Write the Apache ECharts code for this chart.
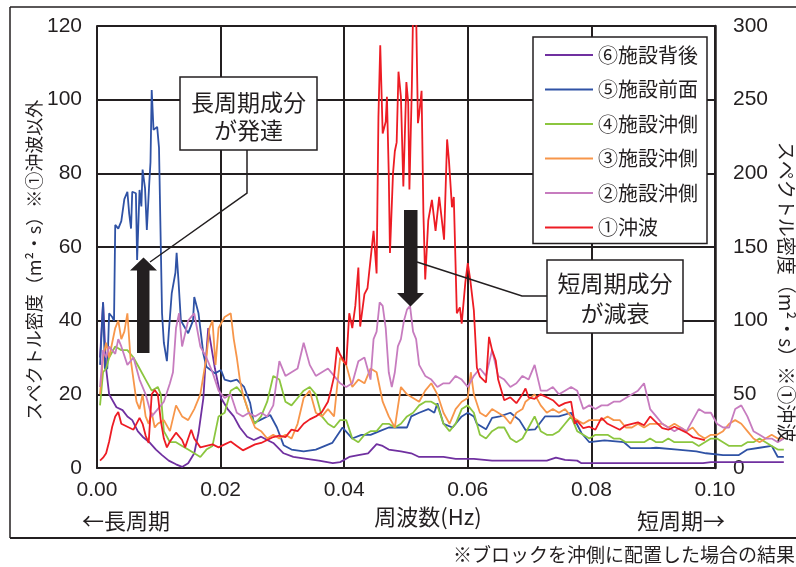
<!DOCTYPE html>
<html><head><meta charset="utf-8">
<script src="https://cdn.jsdelivr.net/npm/echarts@6/dist/echarts.min.js"></script>
<style>html,body{margin:0;padding:0;background:#fff}#c{width:796px;height:567px}</style>
</head><body><div id="c"></div>
<script>
// ---- data ----
const seriesNames = ['⑥施設背後','⑤施設前面','④施設沖側','③施設沖側','②施設沖側','①沖波'];
const xTickLabels = ['0.00','0.02','0.04','0.06','0.08','0.10'];
const leftTicks = [0,20,40,60,80,100,120];
const rightTicks = [0,50,100,150,200,250,300];

// ⑥ 施設背後 (left axis)
const s6 = [[0.0005,30],[0.001,45],[0.0015,27],[0.002,20],[0.0032,16.5],[0.0042,15.7],[0.005,14],[0.0058,13],[0.0067,10],[0.0075,8.5],[0.0086,7],[0.0097,5],[0.0107,3.5],[0.0118,2],[0.013,1],[0.014,0.3],[0.015,1.3],[0.016,4],[0.0167,9.5],[0.0175,19],[0.0178,27],[0.0183,38],[0.0188,33],[0.0194,27],[0.0204,19],[0.0215,16],[0.0225,14],[0.0235,11],[0.0247,8.5],[0.0258,7.6],[0.027,8.5],[0.028,7.6],[0.029,6.8],[0.0307,4],[0.0323,3],[0.0345,2.5],[0.0365,2],[0.0388,1.3],[0.040,1.6],[0.0415,3],[0.043,3.5],[0.0446,4],[0.046,6.5],[0.047,6],[0.048,5],[0.050,4.5],[0.0517,4],[0.053,3],[0.0555,3],[0.057,3],[0.059,2.5],[0.062,2.5],[0.065,2],[0.068,2],[0.071,2],[0.074,2],[0.0755,2.8],[0.077,2.2],[0.079,2],[0.0797,1.3],[0.085,1.3],[0.09,1.3],[0.095,1.3],[0.0997,1.3],[0.101,1.6],[0.106,1.6],[0.113,1.6]];

// ⑤ 施設前面 (left axis)
const s5 = [[0.0005,28],[0.001,45],[0.0013,27],[0.0017,27],[0.002,42],[0.0025,41],[0.0028,40],[0.003,66],[0.0035,65],[0.004,67],[0.0045,73],[0.005,75],[0.0053,69],[0.0056,65],[0.0058,75],[0.0064,74.6],[0.0066,56.5],[0.007,75.5],[0.0073,71],[0.0075,81],[0.0079,76],[0.0082,64.6],[0.0086,77.4],[0.0088,83],[0.009,102.6],[0.0093,91.8],[0.0099,92.6],[0.0102,87],[0.0105,60],[0.0107,42],[0.011,34],[0.0115,29],[0.0118,36.6],[0.0123,47.5],[0.0129,53],[0.0131,58.4],[0.0134,51],[0.0138,40],[0.0145,38],[0.015,36.6],[0.0158,40],[0.016,46.4],[0.0167,42],[0.0175,31],[0.018,27.5],[0.0194,25.7],[0.0204,26.6],[0.021,24],[0.022,23.5],[0.023,24],[0.0236,23],[0.0242,22],[0.0252,17.6],[0.0258,12.2],[0.0268,13],[0.0285,14.4],[0.0296,11],[0.0307,6.2],[0.032,5],[0.034,4.5],[0.036,5],[0.0387,6.8],[0.0404,11],[0.042,8],[0.0435,9],[0.045,9],[0.0465,10],[0.048,11],[0.0495,11],[0.051,11],[0.0517,14],[0.053,15],[0.0545,16],[0.0555,15],[0.056,17.6],[0.057,12],[0.0585,11],[0.060,14],[0.061,15],[0.062,14],[0.0625,12],[0.064,10.5],[0.065,13.6],[0.0663,14],[0.068,15],[0.0695,13],[0.0705,10.3],[0.0721,10.5],[0.0737,14],[0.076,14],[0.078,15],[0.0797,9.5],[0.081,7],[0.0835,7.5],[0.0867,7],[0.0878,5.4],[0.091,5.4],[0.092,5.5],[0.0955,5],[0.0986,4.5],[0.1002,4],[0.103,3.5],[0.1056,3.5],[0.107,5],[0.109,5.5],[0.111,6],[0.112,3],[0.113,3]];

// ④ 施設沖側 (left axis)
const s4 = [[0.0005,17],[0.001,26],[0.0015,27],[0.002,30],[0.003,33],[0.004,32],[0.005,32],[0.006,30],[0.007,27],[0.008,24],[0.009,21],[0.010,22],[0.0105,20],[0.011,10],[0.012,7],[0.013,7],[0.014,6],[0.015,5],[0.016,4],[0.017,3],[0.018,5],[0.019,6],[0.020,14],[0.021,15],[0.022,21],[0.023,22],[0.024,20],[0.025,15],[0.026,12],[0.027,14],[0.028,18],[0.029,25],[0.030,24],[0.031,18],[0.032,17],[0.033,19],[0.034,21],[0.035,22],[0.036,20],[0.037,14],[0.038,12],[0.039,11],[0.040,13],[0.041,13],[0.042,8],[0.043,7],[0.044,9],[0.045,10],[0.046,10],[0.047,12],[0.048,12],[0.049,11],[0.050,12],[0.051,14],[0.052,15],[0.053,17],[0.054,18],[0.055,18],[0.056,17],[0.057,12],[0.058,10],[0.059,12],[0.060,16],[0.061,17],[0.062,15],[0.063,9],[0.064,8],[0.065,10],[0.066,11],[0.067,11],[0.068,8],[0.069,7],[0.070,8],[0.071,11],[0.072,14],[0.073,10],[0.074,9],[0.075,9],[0.076,10],[0.077,12],[0.078,14],[0.079,10],[0.080,9],[0.081,8],[0.082,9],[0.083,9],[0.084,9],[0.085,8],[0.086,8],[0.087,7],[0.088,7],[0.089,7],[0.090,7],[0.091,8],[0.092,7],[0.093,7],[0.094,8],[0.095,7],[0.096,7],[0.097,7],[0.098,7],[0.099,6],[0.100,7],[0.101,8],[0.102,8],[0.103,7],[0.104,6],[0.105,6],[0.106,6],[0.107,7],[0.108,7],[0.109,8],[0.110,7],[0.111,6],[0.112,5],[0.113,5]];

// ③ 施設沖側 (left axis)
const s3 = [[0.0005,20],[0.001,30],[0.0015,34],[0.002,30],[0.003,38],[0.0035,40],[0.004,35],[0.0045,37],[0.005,42],[0.0055,30],[0.006,24],[0.0065,18],[0.007,16],[0.0075,20],[0.008,14],[0.0085,12],[0.009,15],[0.0095,11],[0.010,12],[0.011,13],[0.012,10],[0.013,17],[0.014,14],[0.015,13],[0.016,16],[0.017,20],[0.0175,25],[0.018,30],[0.0185,38],[0.019,40],[0.0195,28],[0.020,38],[0.021,41],[0.022,42],[0.0225,35],[0.023,30],[0.0235,24],[0.024,20],[0.025,15],[0.026,11],[0.027,10],[0.028,8],[0.029,9],[0.030,8],[0.031,9],[0.032,8],[0.033,12],[0.034,19],[0.035,21],[0.036,15],[0.037,14],[0.038,16],[0.039,14],[0.040,30],[0.041,28],[0.042,22],[0.043,24],[0.044,23],[0.045,27],[0.046,26],[0.047,18],[0.048,14],[0.049,11],[0.050,22],[0.051,20],[0.052,19],[0.053,18],[0.054,21],[0.055,23],[0.056,20],[0.057,15],[0.058,12],[0.059,16],[0.060,18],[0.061,19],[0.0615,26],[0.062,20],[0.063,15],[0.064,14],[0.065,16],[0.066,15],[0.067,14],[0.068,12],[0.069,15],[0.070,16],[0.0705,18],[0.072,20],[0.073,17],[0.074,15],[0.075,16],[0.076,15],[0.077,16],[0.078,14],[0.079,13],[0.080,12],[0.081,13],[0.082,13],[0.083,13],[0.084,14],[0.085,13],[0.086,13],[0.087,11],[0.088,11],[0.089,12],[0.090,11],[0.091,12],[0.092,12],[0.093,12],[0.094,11],[0.095,12],[0.096,11],[0.097,10],[0.098,11],[0.099,9],[0.100,8],[0.101,9],[0.102,9],[0.103,10],[0.104,12],[0.105,13],[0.106,12],[0.107,10],[0.108,8],[0.109,7],[0.110,8],[0.111,9],[0.112,8],[0.113,8]];

// ② 施設沖側 (left axis)
const s2 = [[0.0005,22],[0.001,32],[0.0015,30],[0.002,33],[0.003,31],[0.0035,35],[0.004,33],[0.005,28],[0.006,30],[0.007,24],[0.008,20],[0.009,14],[0.010,16],[0.011,18],[0.012,23],[0.0125,26],[0.013,38],[0.0135,42],[0.014,33],[0.015,40],[0.016,42],[0.017,33],[0.018,30],[0.019,26],[0.020,21],[0.021,19],[0.022,20],[0.023,15],[0.024,14],[0.025,15],[0.026,14],[0.027,15],[0.028,14],[0.029,17],[0.030,29],[0.031,25],[0.032,26],[0.033,27],[0.034,34],[0.035,28],[0.036,25],[0.037,26],[0.038,27],[0.039,25],[0.040,23],[0.041,22],[0.042,23],[0.043,29],[0.044,30],[0.045,24],[0.0455,35],[0.046,37],[0.0465,45],[0.047,44],[0.0475,38],[0.048,26],[0.0485,22],[0.049,26],[0.0495,33],[0.050,35],[0.0505,40],[0.051,43],[0.0515,44],[0.052,37],[0.0525,35],[0.053,28],[0.054,25],[0.055,24],[0.056,22],[0.057,23],[0.058,23],[0.059,25],[0.060,24],[0.061,22],[0.062,25],[0.063,27],[0.064,25],[0.065,32],[0.066,25],[0.067,24],[0.068,22],[0.069,23],[0.070,25],[0.071,24],[0.072,28],[0.073,21],[0.074,21],[0.075,22],[0.076,20],[0.077,21],[0.078,22],[0.079,21],[0.080,16],[0.081,17],[0.082,16],[0.083,17],[0.084,17],[0.085,18],[0.086,18],[0.087,19],[0.088,20],[0.089,21],[0.090,23],[0.091,16],[0.092,14],[0.093,12],[0.094,11],[0.095,10],[0.096,11],[0.097,10],[0.098,13],[0.099,16],[0.100,15],[0.101,15],[0.102,12],[0.103,11],[0.104,11],[0.105,16],[0.106,17],[0.107,14],[0.108,10],[0.109,9],[0.110,8],[0.111,8],[0.112,7],[0.113,8]];

// ① 沖波 (right axis)
const s1 = [[0.0005,5],[0.001,7],[0.0015,10],[0.002,18],[0.0025,28],[0.003,35],[0.0035,38],[0.004,30],[0.005,28],[0.006,26],[0.007,34],[0.0075,30],[0.008,22],[0.0085,17],[0.009,50],[0.0095,53],[0.010,50],[0.0105,32],[0.011,20],[0.0115,14],[0.012,18],[0.013,24],[0.014,19],[0.0145,14],[0.015,20],[0.0155,26],[0.016,20],[0.017,14],[0.018,15],[0.019,16],[0.020,14],[0.021,16],[0.022,18],[0.023,15],[0.024,12],[0.025,14],[0.026,16],[0.027,17],[0.028,19],[0.029,21],[0.030,22],[0.031,21],[0.032,26],[0.033,25],[0.034,30],[0.035,33],[0.036,35],[0.037,38],[0.038,45],[0.0385,53],[0.039,62],[0.0395,82],[0.040,77],[0.041,70],[0.0415,105],[0.042,95],[0.0425,110],[0.043,136],[0.0433,96],[0.044,118],[0.0445,122],[0.0455,161],[0.046,132],[0.0463,238],[0.0466,287],[0.047,227],[0.0475,235],[0.0477,252],[0.048,200],[0.0482,146],[0.0487,200],[0.049,215],[0.0493,221],[0.0496,269],[0.050,252],[0.0504,191],[0.0509,262],[0.0512,248],[0.0514,189],[0.0518,259],[0.052,310],[0.0525,310],[0.0528,234],[0.053,240],[0.0534,256],[0.0537,173],[0.054,128],[0.0545,168],[0.0551,182],[0.0557,161],[0.0563,184],[0.0571,155],[0.0576,223],[0.0579,209],[0.0584,177],[0.0587,184],[0.0592,105],[0.0597,109],[0.060,98],[0.0606,126],[0.061,139],[0.0614,128],[0.062,107],[0.0625,68],[0.063,62],[0.064,58],[0.0645,89],[0.065,80],[0.0656,73],[0.066,60],[0.067,46],[0.068,48],[0.069,44],[0.070,50],[0.0705,54],[0.071,48],[0.072,47],[0.073,50],[0.074,48],[0.075,46],[0.076,42],[0.077,44],[0.078,45],[0.0786,30],[0.079,32],[0.080,27],[0.081,28],[0.082,26],[0.083,34],[0.084,30],[0.085,28],[0.086,26],[0.087,29],[0.088,30],[0.089,31],[0.090,29],[0.091,35],[0.092,31],[0.093,27],[0.094,26],[0.095,28],[0.096,26],[0.097,24],[0.098,21],[0.099,20],[0.100,19]];

const seriesData = [s6, s5, s4, s3, s2, s1];
const seriesColors = ['#7030a0','#2f52a5','#8cc63f','#f7964a','#c77cbf','#ed1c24'];

// ---- styling ----
const INK = '#231f20';
const NUM_FONT = '"Liberation Sans",Arial,sans-serif';
const CJK = '"Noto Sans CJK JP","Noto Sans CJK SC",sans-serif';
const PX_PER_HZ = 6180;           // 0.10 Hz spans 618 px
const X_MAX_WIDE = 0.115;         // overflow plot continues past 0.10

const chart = echarts.init(document.getElementById('c'), null, {renderer: 'canvas'});

const series = seriesNames.map((n, i) => ({
  name: n,
  type: 'line',
  data: seriesData[i],
  xAxisIndex: 1,
  yAxisIndex: i === 5 ? 3 : 2,
  symbol: 'none',
  showSymbol: false,
  clip: true,
  lineStyle: {color: seriesColors[i], width: 1.8},
  itemStyle: {color: seriesColors[i]},
  z: 2 + i
}));

function txt(text, x, y, size, opts) {
  opts = opts || {};
  return {
    type: 'text', x: x, y: y, rotation: opts.rotation || 0, z: 100,
    style: {
      text: text, fill: INK, fontSize: size, fontFamily: opts.font || CJK,
      align: opts.align || 'left', verticalAlign: 'middle',
      textAlign: opts.align || 'left', textVerticalAlign: 'middle',
      lineHeight: opts.lineHeight
    }
  };
}

const graphic = [
  // frame
  {type: 'line', z: 90, shape: {x1: 10, y1: 7, x2: 796, y2: 7}, style: {stroke: INK, lineWidth: 1.5}},
  {type: 'line', z: 90, shape: {x1: 10, y1: 7, x2: 10, y2: 538}, style: {stroke: INK, lineWidth: 1.5}},
  {type: 'line', z: 90, shape: {x1: 10, y1: 538, x2: 796, y2: 538}, style: {stroke: INK, lineWidth: 2}},
  // axis titles
  txt('スペクトル密度（m²・s）※①沖波以外', 34, 260, 18, {rotation: Math.PI / 2, align: 'center'}),
  txt('スペクトル密度（m²・s）※①沖波', 786, 292, 19, {rotation: -Math.PI / 2, align: 'center'}),
  txt('←長周期', 82, 521, 22),
  txt('周波数(Hz)', 428, 517, 22, {align: 'center'}),
  txt('短周期→', 637, 521, 22),
  txt('※ブロックを沖側に配置した場合の結果', 453, 555, 19),
  // annotation 1
  {type: 'polyline', z: 95, shape: {points: [[247, 150], [247, 193], [150, 262]]}, style: {stroke: INK, lineWidth: 1.5, fill: null}},
  {type: 'rect', z: 96, shape: {x: 180, y: 77, width: 137, height: 73}, style: {fill: '#fff', stroke: INK, lineWidth: 1.5}},
  txt('長周期成分\nが発達', 248.5, 116, 23, {align: 'center', lineHeight: 28}),
  {type: 'polygon', z: 97, shape: {points: [[137, 353], [149.5, 353], [149.5, 270.5], [157, 270.5], [143.5, 257.5], [130, 270.5], [137, 270.5]]}, style: {fill: INK}},
  // annotation 2
  {type: 'polyline', z: 95, shape: {points: [[417, 262], [522, 296], [547, 296]]}, style: {stroke: INK, lineWidth: 1.5, fill: null}},
  {type: 'rect', z: 96, shape: {x: 547, y: 260, width: 136, height: 73}, style: {fill: '#fff', stroke: INK, lineWidth: 1.5}},
  txt('短周期成分\nが減衰', 615, 298, 23, {align: 'center', lineHeight: 30}),
  {type: 'polygon', z: 97, shape: {points: [[404, 210], [417.5, 210], [417.5, 293], [424, 293], [410.5, 306.5], [397, 293], [404, 293]]}, style: {fill: INK}}
];

const hiddenAxis = {show: false, axisLine: {show: false}, axisTick: {show: false}, axisLabel: {show: false}, splitLine: {show: false}};

const option = {
  animation: false,
  backgroundColor: '#fff',
  grid: [
    {left: 97, top: 26, width: 0.1 * PX_PER_HZ, bottom: 99, containLabel: false},
    {left: 97, top: 26, width: X_MAX_WIDE * PX_PER_HZ, bottom: 99, containLabel: false}
  ],
  xAxis: [
    {
      gridIndex: 0, type: 'value', min: 0, max: 0.1, interval: 0.02,
      axisLine: {show: true, onZero: false, lineStyle: {color: INK, width: 2}},
      axisTick: {show: false},
      splitLine: {show: true, lineStyle: {color: INK, width: 2}},
      axisLabel: {formatter: v => xTickLabels[Math.round(v / 0.02)], margin: 12, fontSize: 21, fontFamily: NUM_FONT, color: INK}
    },
    Object.assign({gridIndex: 1, type: 'value', min: 0, max: X_MAX_WIDE}, hiddenAxis)
  ],
  yAxis: [
    {
      gridIndex: 0, type: 'value', min: leftTicks[0], max: leftTicks[leftTicks.length - 1], interval: 20, position: 'left',
      axisLine: {show: true, lineStyle: {color: INK, width: 2}},
      axisTick: {show: false},
      splitLine: {show: true, lineStyle: {color: INK, width: 2}},
      axisLabel: {margin: 15, fontSize: 21, fontFamily: NUM_FONT, color: INK}
    },
    {
      gridIndex: 0, type: 'value', min: rightTicks[0], max: rightTicks[rightTicks.length - 1], interval: 50, position: 'right',
      axisLine: {show: true, lineStyle: {color: INK, width: 2.5}},
      axisTick: {show: false},
      splitLine: {show: false},
      axisLabel: {margin: 18, fontSize: 21, fontFamily: NUM_FONT, color: INK}
    },
    Object.assign({gridIndex: 1, type: 'value', min: leftTicks[0], max: leftTicks[leftTicks.length - 1]}, hiddenAxis),
    Object.assign({gridIndex: 1, type: 'value', min: rightTicks[0], max: rightTicks[rightTicks.length - 1]}, hiddenAxis)
  ],
  legend: {
    data: seriesNames,
    orient: 'vertical', left: 533, top: 37,
    padding: [8, 9, 6, 12],
    icon: 'rect',
    itemWidth: 48, itemHeight: 2, itemGap: 14.5,
    backgroundColor: '#fff', borderColor: INK, borderWidth: 1.5,
    textStyle: {fontSize: 20, lineHeight: 20, fontFamily: CJK, color: INK},
    z: 50
  },
  series: series,
  graphic: graphic
};
chart.setOption(option);
</script>
</body></html>
